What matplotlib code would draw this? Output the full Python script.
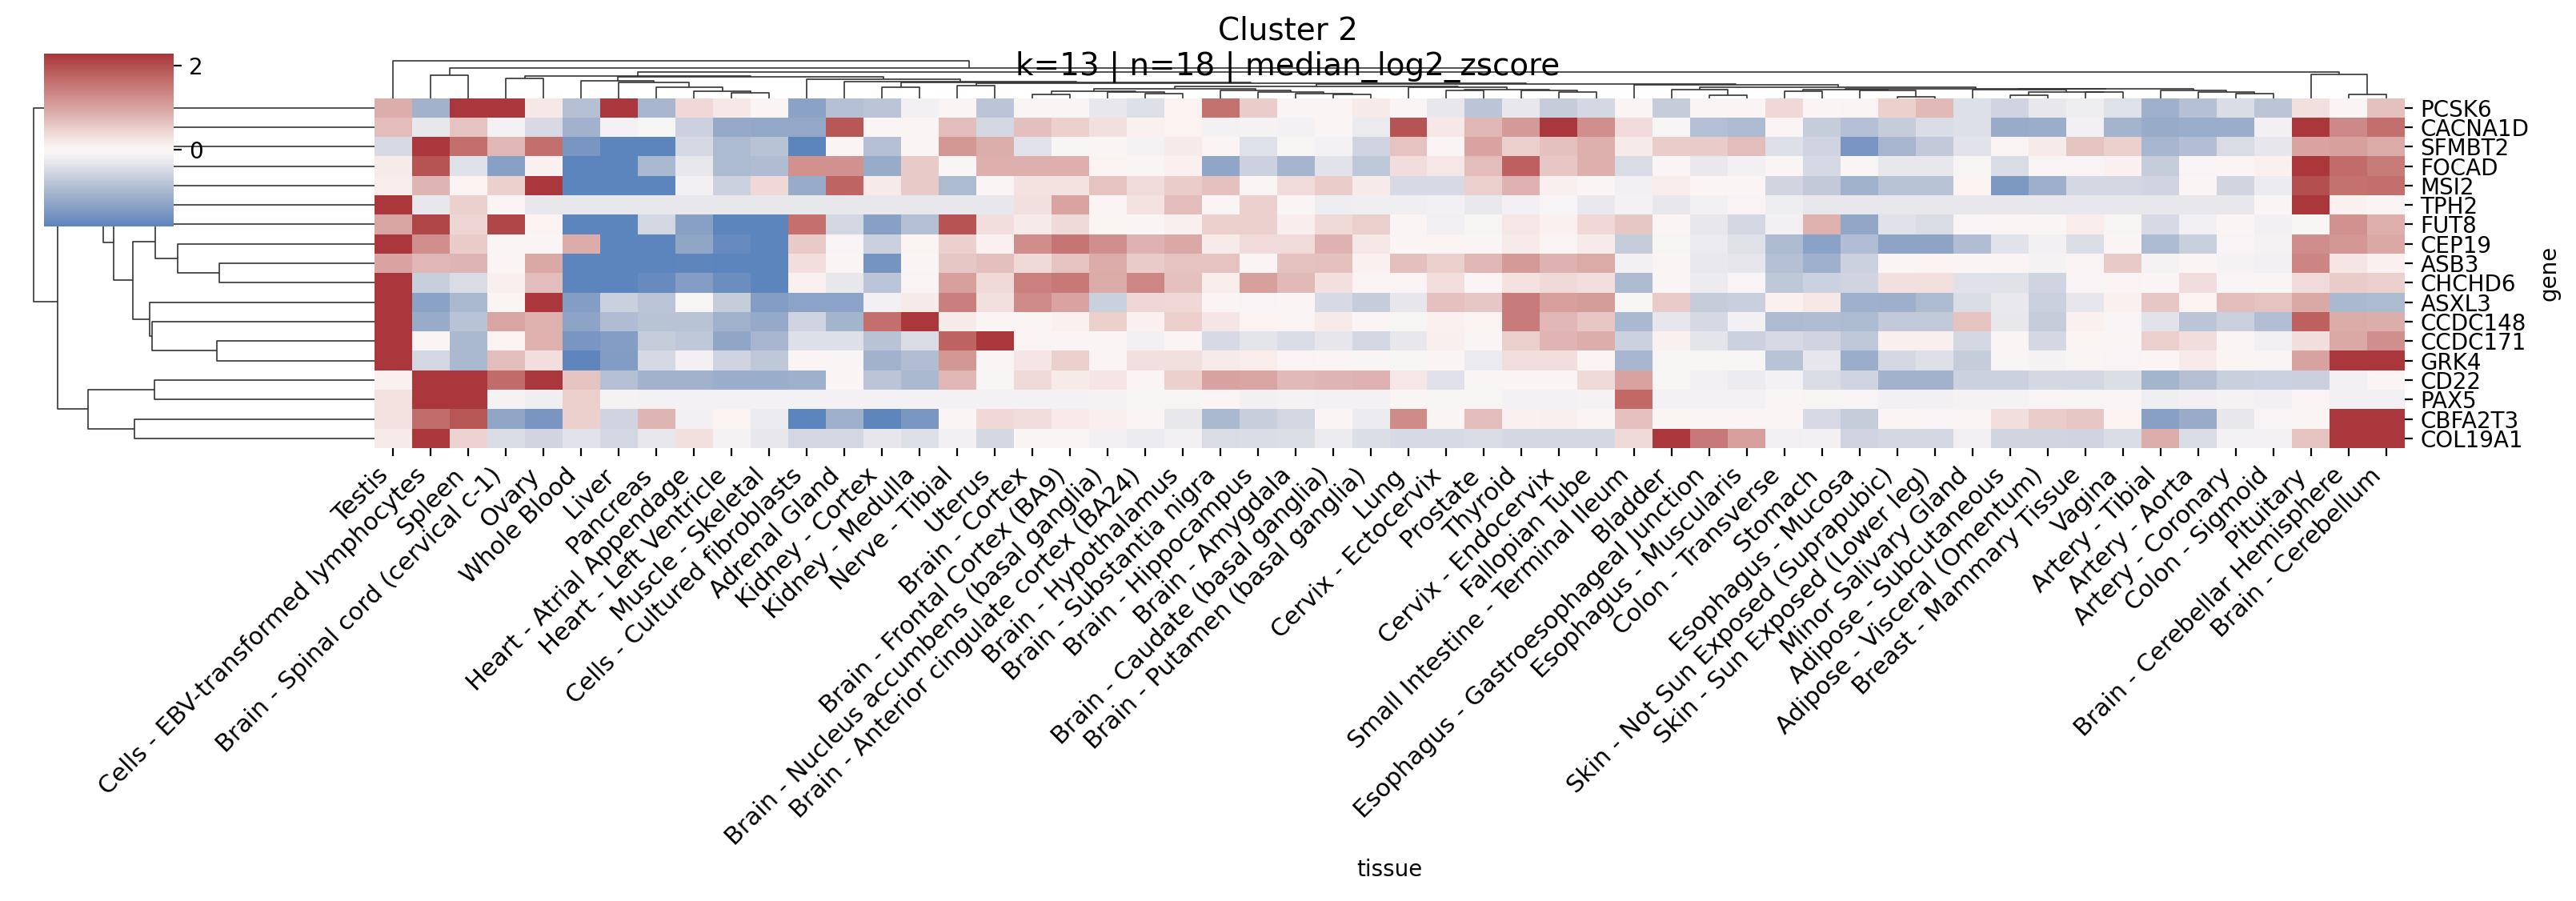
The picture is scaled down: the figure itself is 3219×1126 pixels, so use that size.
import numpy as np
import matplotlib
matplotlib.use("Agg")
import matplotlib.pyplot as plt
from matplotlib.collections import LineCollection
import seaborn as sns

WIDTH, HEIGHT, DPI = 3219, 1126, 200

genes = ["PCSK6", "CACNA1D", "SFMBT2", "FOCAD", "MSI2", "TPH2", "FUT8", "CEP19", "ASB3",
         "CHCHD6", "ASXL3", "CCDC148", "CCDC171", "GRK4", "CD22", "PAX5", "CBFA2T3", "COL19A1"]

tissues = [
    "Testis", "Cells - EBV-transformed lymphocytes", "Spleen", "Brain - Spinal cord (cervical c-1)",
    "Ovary", "Whole Blood", "Liver", "Pancreas", "Heart - Atrial Appendage", "Heart - Left Ventricle",
    "Muscle - Skeletal", "Cells - Cultured fibroblasts", "Adrenal Gland", "Kidney - Cortex",
    "Kidney - Medulla", "Nerve - Tibial", "Uterus", "Brain - Cortex", "Brain - Frontal Cortex (BA9)",
    "Brain - Nucleus accumbens (basal ganglia)", "Brain - Anterior cingulate cortex (BA24)",
    "Brain - Hypothalamus", "Brain - Substantia nigra", "Brain - Hippocampus", "Brain - Amygdala",
    "Brain - Caudate (basal ganglia)", "Brain - Putamen (basal ganglia)", "Lung", "Cervix - Ectocervix",
    "Prostate", "Thyroid", "Cervix - Endocervix", "Fallopian Tube", "Small Intestine - Terminal Ileum",
    "Bladder", "Esophagus - Gastroesophageal Junction", "Esophagus - Muscularis", "Colon - Transverse",
    "Stomach", "Esophagus - Mucosa", "Skin - Not Sun Exposed (Suprapubic)", "Skin - Sun Exposed (Lower leg)",
    "Minor Salivary Gland", "Adipose - Subcutaneous", "Adipose - Visceral (Omentum)",
    "Breast - Mammary Tissue", "Vagina", "Artery - Tibial", "Artery - Aorta", "Artery - Coronary",
    "Colon - Sigmoid", "Pituitary", "Brain - Cerebellar Hemisphere", "Brain - Cerebellum",
]

# zscores, one row per gene
pcsk6 = [.88, -1.05, 2.3, 2.3, .22, -.84, 2.3, -1.0, .4, .22, .04, -1.33, -.84,
         -.8, -.18, .04, -.78, -.03, -.03, -.3, -.4, .09, 1.58, .53, .04, .04, .19, .04, -.3, -.78, -.3, -.67, -.51, .04, -.67, .04,
         .03, .4, .04, .06, .48, .75, -.4, -.56, -.3, -.22, -.38, -1.09, -.84, -.43, -.8, .31, .04, .66]
cacna1d = [.7, -.3, .63, -.15, -.48, -1.05, -.16, -.1, -.58, -1.19, -1.21, -1.21, 1.9,
           .04, .04, .7, -.53, .69, .48, .31, .11, .09, -.16, -.13, -.16, 0, -.26, 1.95, .22, .77, 1.1, 2.3, 1.23, .37, -.1, -.86,
           -.94, .04, -.67, -.84, -.67, -.43, -.4, -1.17, -1.14, -.18, -1.03, -1.17, -1.14, -1.14, -.18, 2.3, 1.32, 1.63]
sfmbt2 = [-.48, 2.3, 1.63, .77, 1.63, -1.52, -1.8, -1.8, -.49, -.94, -.81, -1.8, .04,
          -.84, .03, 1.14, .88, -.35, -.1, -.03, -.13, .18, 0, -.38, -.1, -.16, -.56, .63, .04, 1.01, .5, .66, .86, .18, .53, .55,
          .7, -.4, -.56, -1.52, -1.0, -.7, -.35, .06, .18, .63, .5, -1.0, -.87, -.46, -.32, 1.01, 1.04, .92]
focad = [.18, 1.95, -.38, -1.36, .11, -1.8, -1.8, -.96, -.3, -.94, -.91, 1.21, 1.21,
         -1.17, .57, -.03, .86, .86, .86, .09, -.04, .11, -1.24, -.58, -1.02, -.35, -.73, .35, .24, .7, 1.8, .6, .86, -.46, .04, -.27,
         -.18, -.03, -.49, -.04, -.3, -.3, -.1, -.46, -.07, -.07, .11, -.67, -.07, .04, .11, 2.28, 1.67, 1.45]
msi2 = [.16, .79, .09, .48, 2.3, -1.8, -1.8, -1.8, -.18, -.59, .4, -1.17, 1.74,
        .18, .57, -.94, .03, .29, .29, .63, .37, .53, .66, .03, .37, .53, .19, -.48, -.48, .5, .84, .13, .03, -.18, .16, .04,
        0, -.54, -.7, -1.07, -.81, -.81, .09, -1.47, -1.12, -.52, -.52, -.56, .03, -.54, -.24, 2.0, 1.58, 1.63]
tph2 = [2.3, -.3, .48, 0, -.3, -.3, -.3, -.3, -.3, -.3, -.3, -.3, -.3,
        -.3, -.3, -.3, -.3, .31, 1.01, 0, .29, .7, .02, .48, -.01, -.22, -.21, -.21, -.18, -.27, -.18, -.08, -.27, -.16, -.3, -.17,
        -.07, -.22, -.3, -.3, -.3, -.3, -.3, -.3, -.3, -.3, -.3, -.3, -.3, -.3, -.03, 2.3, .11, .06]
fut8 = [.99, 2.1, .44, 2.1, .09, -1.8, -1.8, -.53, -1.35, -1.8, -1.8, 1.6, -.53,
        -1.35, -.86, 1.95, .33, .18, .38, .05, .03, .13, .48, .48, .15, .38, .5, .04, -.19, -.1, .24, .11, .4, .6, .04, -.28,
        -.53, -.18, .85, -1.22, -.37, -.46, -.07, .06, -.03, .16, -.1, -.48, -.18, .03, -.18, -.1, 1.21, .86]
cep19 = [2.3, 1.23, .55, .04, .04, .9, -1.8, -1.8, -1.24, -1.69, -1.8, .57, -.07,
         -.61, .09, .48, .11, 1.25, 1.54, 1.23, .82, .95, .19, .37, .37, .84, .24, .04, .08, .02, .18, .06, .19, -.67, -.1, -.26,
         -.38, -.94, -1.33, -.89, -1.29, -1.29, -.89, -.35, -.18, -.42, .04, -.94, -.64, -.08, -.13, 1.25, 1.14, .95]
asb3 = [1.01, .77, .79, .04, .95, -1.8, -1.8, -1.8, -1.78, -1.8, -1.8, .33, .03,
        -1.54, -.01, .6, .69, .38, .63, .9, .55, .62, .63, .03, .64, .66, .11, .69, .5, .77, 1.1, .82, .92, -.18, .03, -.27,
        -.32, -.84, -1.09, -.59, .04, .09, .03, .06, -.13, .07, .57, -.13, .04, -.13, -.18, 1.36, .26, .11]
chchd6 = [2.3, -.65, -.46, .13, .7, -1.8, -1.8, -1.69, -1.38, -1.65, -1.8, .11, -.3,
          -.76, .06, 1.04, .38, 1.41, 1.5, .92, 1.34, .66, .16, 1.04, .75, .31, .07, .06, .33, .03, .29, .38, .33, -.94, 0, -.24,
          -.07, -.73, -.59, -.56, .31, .31, -.37, -.37, -.56, -.07, .06, .03, .35, -.07, .01, .37, .55, .5]
asxl3 = [2.3, -1.33, -.97, .05, 2.3, -1.38, -.61, -.8, -.1, -.67, -1.38, -1.3, -1.3,
         -.18, .18, 1.43, .31, 1.28, 1.01, -.61, .42, .41, .02, -.07, .03, -.48, -.67, -.32, .66, .59, 1.48, 1.04, 1.07, -.1, .55, -.67,
         -.64, .11, .22, -1.09, -1.12, -.94, -.43, -.27, -.61, -.32, .11, .6, .09, .7, .63, .94, -.97, -.94]
ccdc148 = [2.3, -1.17, -.81, .99, .85, -1.29, -.91, -.81, -.81, -1.07, -1.19, -.56, -1.03,
           1.63, 2.3, .18, 0, .03, .11, .48, .11, .5, .26, .08, .07, .2, .03, -.1, .11, .09, 1.45, .77, .6, -.96, -.32, -.49,
           -.18, -.94, -.91, -.94, -.7, -.7, .63, -.3, -.67, .11, -.07, -.35, -.76, -.61, -.87, 1.8, .92, .88]
ccdc171 = [2.3, .06, -.96, .09, .85, -1.52, -1.38, -.67, -.73, -1.26, -1.0, -.4, -.4,
           -.81, -.46, 1.76, 2.3, .06, .02, .04, -.18, 0, -.48, -.33, -.43, -.32, -.53, -.3, .13, .04, .5, .81, .88, -.59, .11, -.34,
           -.59, -.48, -.56, -.73, .13, .13, -.51, .03, -.51, .05, .04, .5, .35, .07, -.19, .33, .95, 1.23]
grk4 = [2.3, -.53, -.96, .7, .33, -1.78, -1.41, -.49, -.18, -.56, -.73, .04, -.01,
        -1.05, -.89, 1.13, .07, .26, .5, .06, .31, .31, .18, .16, .07, .04, -.01, -.1, 0, -.26, .33, .33, .01, -1.0, -.09, -.09,
        -.09, -.81, -.32, -1.14, -.51, -.4, -.67, -.03, -.13, -.05, -.07, .01, .18, .05, .03, 1.03, 2.3, 2.3]
cd22 = [.11, 2.3, 2.3, 1.67, 2.3, .63, -.84, -1.05, -1.05, -1.14, -1.14, -1.09, .03,
        -.76, -.97, .77, -.1, .38, .2, .26, .03, .48, 1.03, .97, .75, .79, .82, .24, -.37, -.04, .02, 0, .38, 1.03, -.1, -.18,
        -.24, -.15, -.46, -.56, -1.05, -1.05, -.58, -.58, -.51, -.53, -.41, -1.03, -.84, -.64, -.59, -.61, -.17, .02]
pax5 = [.29, 2.3, 2.3, -.13, -.21, .5, -.13, -.16, -.16, -.16, -.16, -.16, -.16,
        -.16, -.16, -.16, -.16, -.16, -.16, -.13, -.1, -.1, .04, -.17, -.13, -.16, -.16, 0, -.09, -.09, -.15, -.15, -.13, 1.69, -.16, -.16,
        -.16, -.01, -.1, -.07, -.18, -.18, -.12, -.12, -.08, -.09, -.07, -.21, -.18, -.13, -.18, .06, -.18, -.18]
cbfa2t3 = [.29, 1.65, 1.9, -1.24, -1.52, .48, -.56, .79, -.17, .08, -.24, -1.8, -1.09,
           -1.78, -1.5, .04, .4, .35, .21, .13, .04, -.3, -.97, -.65, -.53, .03, -.24, 1.28, .02, .7, .11, .13, .04, .66, .05, .04,
           .04, .04, -.48, -.67, .03, -.07, .06, .33, .53, .59, .08, -1.35, -1.17, -.3, -.07, .06, 2.3, 2.3]
col19a1 = [.19, 2.3, .47, -.46, -.54, -.35, -.53, -.28, .31, -.13, -.3, -.53, -.53,
           -.31, -.4, -.17, -.51, -.03, -.03, -.17, -.24, -.18, -.46, -.43, -.42, -.24, -.42, -.48, -.48, -.46, -.51, -.51, -.51, .38, 2.28, 1.5,
           1.06, -.19, -.18, -.56, -.51, -.51, -.19, -.54, -.54, -.56, -.43, .88, -.43, -.16, -.16, .63, 2.3, 2.3]
values = np.array([pcsk6, cacna1d, sfmbt2, focad, msi2, tph2, fut8, cep19, asb3, chchd6, asxl3,
                   ccdc148, ccdc171, grk4, cd22, pax5, cbfa2t3, col19a1])

# linkage as (left, right, height), leaves are 0..n-1 in display order, merges count on from n
row_links = [(8, 9, 194), (7, 18, 246), (6, 19, 273.6), (12, 13, 197), (11, 21, 278.5), (10, 22, 281),
             (20, 23, 301.6), (5, 24, 326), (3, 4, 264.5), (2, 26, 285.5), (1, 27, 313.6), (28, 25, 339.5),
             (14, 15, 275), (16, 17, 300), (30, 31, 357.8), (29, 32, 396), (0, 33, 426.5)]
col_links = [(9, 10, 6.8), (8, 54, 8.8), (7, 55, 13.8), (6, 56, 19.2), (5, 57, 21.2), (13, 14, 13.2),
             (15, 16, 15.2), (17, 18, 4.2), (20, 21, 5.8), (19, 62, 7.2), (61, 63, 8.8), (25, 26, 4.8),
             (24, 65, 5.5), (23, 66, 7.2), (22, 67, 9.2), (64, 68, 11.5), (31, 32, 7.2), (30, 70, 9.2),
             (28, 29, 9.2), (72, 71, 10.8), (27, 73, 13.2), (69, 74, 14.8), (35, 36, 3.2), (34, 76, 10.2),
             (37, 38, 8.2), (40, 41, 1.8), (39, 79, 9.2), (78, 80, 10.5), (43, 44, 3.8), (45, 46, 7.2),
             (82, 83, 7.5), (42, 84, 10.2), (49, 50, 5.2), (48, 86, 7.8), (47, 87, 9.8), (85, 88, 11.2),
             (81, 89, 11.8), (77, 90, 13.8), (33, 91, 17.0), (75, 92, 17.5), (60, 93, 18.8), (59, 94, 20.0),
             (12, 95, 20.2), (11, 96, 23.2), (58, 97, 26.5), (3, 4, 24.8), (99, 98, 27.8), (52, 53, 4.8),
             (51, 101, 30), (100, 102, 33), (1, 2, 29), (104, 103, 38), (0, 105, 46.5)]


def px_axes(fig, left, top, right, bottom):
    return fig.add_axes([left / WIDTH, 1 - bottom / HEIGHT, (right - left) / WIDTH, (bottom - top) / HEIGHT])


def dendro_segments(links, n_leaves):
    pos = {i: i + 0.5 for i in range(n_leaves)}
    hgt = {i: 0.0 for i in range(n_leaves)}
    segs = []
    for k, (a, b, h) in enumerate(links):
        segs.append([(pos[a], hgt[a]), (pos[a], h), (pos[b], h), (pos[b], hgt[b])])
        pos[n_leaves + k] = (pos[a] + pos[b]) / 2
        hgt[n_leaves + k] = h
    return segs


fig = plt.figure(figsize=(WIDTH / DPI, HEIGHT / DPI), dpi=DPI)

ax = px_axes(fig, 468, 122.5, 3005, 560)

# row dendrogram first so the colorbar sits on top of it
ax_row = px_axes(fig, 40, 122.5, 468, 560)
segs = [[(-h, p) for p, h in s] for s in dendro_segments(row_links, len(genes))]
ax_row.add_collection(LineCollection(segs, colors=".2", linewidths=0.6))
ax_row.set_xlim(-428, 0)
ax_row.set_ylim(len(genes), 0)
ax_row.axis("off")

ax_col = px_axes(fig, 468, 74.5, 3005, 122.5)
ax_col.add_collection(LineCollection(dendro_segments(col_links, len(tissues)), colors=".2", linewidths=0.6))
ax_col.set_xlim(0, len(tissues))
ax_col.set_ylim(0, 48)
ax_col.axis("off")

cax = px_axes(fig, 55, 67, 217, 283)
sns.heatmap(values, ax=ax, cmap="vlag", center=0, vmin=-1.81, vmax=2.28, cbar_ax=cax,
            xticklabels=tissues, yticklabels=genes, cbar_kws={"ticks": [0, 2]})
cax.tick_params(labelsize=10, right=True, labelright=True, left=False, labelleft=False)
cax.yaxis.set_ticks_position("right")

ax.yaxis.tick_right()
ax.set_yticklabels(genes, rotation=0, fontsize=10)
ax.set_xticklabels(tissues, rotation=45, ha="right", fontsize=11)
ax.set_xlabel("tissue", fontsize=10)
ax.set_ylabel("gene", fontsize=10)
ax.yaxis.set_label_position("right")

fig.suptitle("Cluster 2\nk=13 | n=18 | median_log2_zscore", fontsize=14, x=0.5, y=0.983, va="top")

fig.savefig("out.png", dpi=DPI)
